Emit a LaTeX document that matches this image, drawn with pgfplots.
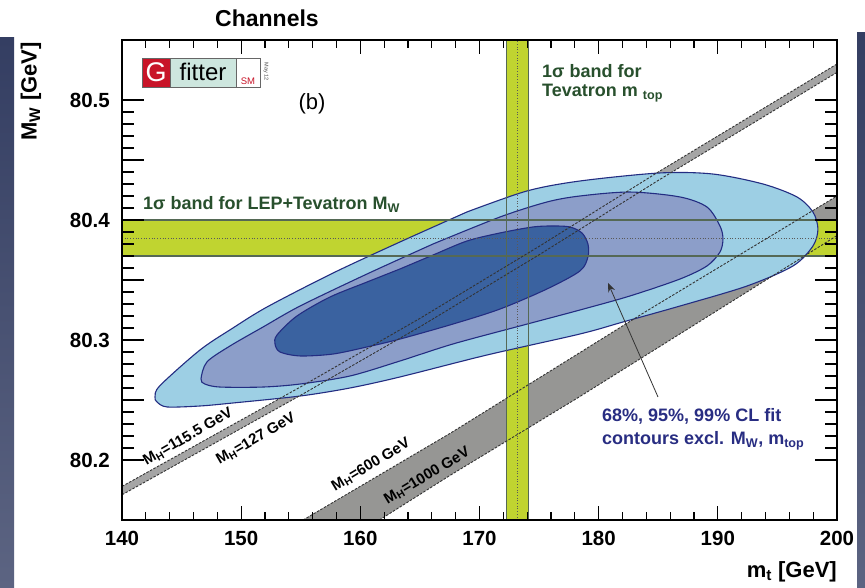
\documentclass[border=0pt]{standalone}
\usepackage{pgfplots}
\pgfplotsset{compat=1.18}
\usepackage{fontspec}
\setmainfont{Liberation Sans}
\usetikzlibrary{arrows.meta}
\definecolor{cl99}{RGB}{157,207,228}
\definecolor{cl95}{RGB}{140,158,201}
\definecolor{cl68}{RGB}{58,98,160}
\definecolor{clline}{RGB}{35,45,130}
\definecolor{yband}{RGB}{192,212,48}
\definecolor{bedge}{RGB}{85,105,85}
\definecolor{hband}{RGB}{150,150,148}
\definecolor{hthin}{RGB}{165,165,165}
\definecolor{gtext}{RGB}{40,80,45}
\definecolor{btext}{RGB}{40,45,130}
\definecolor{slideA}{RGB}{52,62,98}
\definecolor{slideB}{RGB}{92,100,130}
\definecolor{gred}{RGB}{200,20,40}
\definecolor{gcyan}{RGB}{205,230,222}
\newcommand{\sub}[1]{\textsubscript{#1}}
\begin{document}
\begin{tikzpicture}[x=1pt,y=1pt]
\fill[white] (0,0) rectangle (865,588);
\shade[top color=slideA, bottom color=slideB] (0,0) rectangle (14,550);
\shade[top color=slideA, bottom color=slideB] (857,0) rectangle (865,555);
\begin{axis}[at={(122pt,68pt)}, anchor=south west,
  width=715pt, height=480pt, scale only axis,
  xmin=140, xmax=200, ymin=80.15, ymax=80.55,
  axis on top,
  xtick={140,150,160,170,180,190,200}, minor x tick num=4,
  ytick={80.2,80.25,80.3,80.35,80.4,80.45,80.5},
  yticklabels={80.2,,80.3,,80.4,,80.5},
  minor y tick num=4,
  xtick style={/pgfplots/major tick length=14pt,/pgfplots/minor tick length=8pt,line width=1.1pt,black},
  ytick style={/pgfplots/major tick length=22pt,/pgfplots/minor tick length=12pt,line width=1.1pt,black},
  axis line style={line width=1.5pt},
  /pgf/number format/assume math mode=true,
  ticklabel style={font=\bfseries\fontsize{20.5}{20.5}\selectfont, inner sep=0pt},
  xticklabel style={yshift=-11pt},
  yticklabel style={xshift=-12pt},
]
% M_H = 600 - 1000 band
\addplot[fill=hband, draw=none] coordinates {(155.2,80.15) (167.5,80.222) (176,80.2745) (184,80.324) (200,80.42) (200,80.387) (178.2,80.2515) (167.5,80.187) (161.6,80.15)};
% M_H = 115.5 - 127 band
\addplot[fill=hthin, draw=none] coordinates {(140,80.178) (155,80.261) (165,80.318) (175,80.378) (185,80.440) (200,80.530) (200,80.523) (185,80.433) (175,80.371) (165,80.311) (155,80.254) (140,80.171)};
% yellow bands
\addplot[fill=yband, draw=none] coordinates {(172.24,80.15) (174.12,80.15) (174.12,80.55) (172.24,80.55)};
\addplot[fill=yband, draw=none] coordinates {(140,80.37) (200,80.37) (200,80.40) (140,80.40)};
% 99% contour
\addplot[fill=cl99, draw=clline, line width=1.1pt, smooth, tension=0.5] coordinates {
(168.95,80.4067) (173.99,80.4242) (178.43,80.4325) (185.15,80.4392) (189.59,80.4383) (193.79,80.4300) (196.64,80.4192) (197.98,80.4067) (198.40,80.3925) (197.98,80.3783) (196.31,80.3617) (192.45,80.3450) (186.82,80.3283) (182.04,80.3150) (178.43,80.3050) (170.63,80.2875) (163.33,80.2692) (159.13,80.2600) (154.94,80.2533) (149.31,80.2475) (146.55,80.2450) (143.78,80.2442) (142.94,80.2483) (142.77,80.2525) (143.19,80.2620) (146.55,80.2917) (149.31,80.3100) (152.17,80.3275) (157.71,80.3558) (163.33,80.3817) (168.95,80.4067)};
% 95% contour
\addplot[fill=cl95, draw=clline, line width=1.1pt, smooth, tension=0.5] coordinates {
(166.10,80.3800) (171.72,80.4025) (175.66,80.4150) (178.43,80.4200) (182.63,80.4233) (186.82,80.4192) (189.09,80.4108) (190.18,80.3950) (190.43,80.3842) (190.18,80.3733) (189.09,80.3617) (186.82,80.3508) (182.63,80.3367) (178.43,80.3250) (173.40,80.3117) (167.78,80.2967) (163.33,80.2825) (159.13,80.2700) (154.94,80.2633) (151.83,80.2608) (148.22,80.2608) (146.96,80.2633) (146.63,80.2675) (147.13,80.2817) (149.06,80.2950) (151.83,80.3108) (154.94,80.3283) (160.56,80.3550) (166.10,80.3800)};
% 68% contour
\addplot[fill=cl68, draw=clline, line width=1.1pt, smooth, tension=0.5] coordinates {
(163.33,80.3592) (166.10,80.3708) (168.95,80.3825) (171.72,80.3892) (174.49,80.3942) (176.17,80.3950) (177.59,80.3942) (178.60,80.3892) (179.10,80.3800) (179.10,80.3692) (178.43,80.3575) (175.66,80.3425) (171.72,80.3258) (167.78,80.3133) (163.33,80.3008) (160.56,80.2942) (157.71,80.2883) (154.94,80.2867) (153.26,80.2900) (152.84,80.2967) (153.01,80.3042) (154.68,80.3200) (157.45,80.3358) (160.56,80.3483) (163.33,80.3592)};
% band edges and centres
\addplot[bedge, line width=1.1pt] coordinates {(172.24,80.15) (172.24,80.55)};
\addplot[bedge, line width=1.1pt] coordinates {(174.12,80.15) (174.12,80.55)};
\addplot[bedge, line width=1.1pt] coordinates {(140,80.37) (200,80.37)};
\addplot[bedge, line width=1.1pt] coordinates {(140,80.40) (200,80.40)};
\addplot[black!65, dotted, line width=0.7pt] coordinates {(173.18,80.15) (173.18,80.55)};
\addplot[black!65, dotted, line width=0.7pt] coordinates {(140,80.385) (200,80.385)};
% Higgs lines
\addplot[black!80, dash pattern=on 2.5pt off 1.5pt, line width=0.9pt] coordinates {(140,80.178) (155,80.261) (165,80.318) (175,80.378) (185,80.440) (200,80.530)};
\addplot[black!80, dash pattern=on 2.5pt off 1.5pt, line width=0.9pt] coordinates {(140,80.171) (155,80.254) (165,80.311) (175,80.371) (185,80.433) (200,80.523)};
\addplot[black!80, dash pattern=on 2.5pt off 1.5pt, line width=0.9pt] coordinates {(155.2,80.15) (167.5,80.222) (176,80.2745) (184,80.324) (200,80.42)};
\addplot[black!80, dash pattern=on 2.5pt off 1.5pt, line width=0.9pt] coordinates {(161.6,80.15) (167.5,80.187) (178.2,80.2515) (200,80.387)};
\end{axis}
% titles and labels
\node[font=\bfseries\fontsize{23}{23}\selectfont] at (267,570) {Channels};
\node[font=\bfseries\fontsize{22}{22}\selectfont, rotate=90, anchor=east, inner sep=0pt] at (31,546) {M\sub{W} [GeV]};
\node[font=\bfseries\fontsize{22}{22}\selectfont, anchor=east, inner sep=0pt] at (837,16) {m\sub{t} [GeV]};
% logo
\fill[gred] (142,501) rectangle (170,530);
\fill[gcyan] (170,501) rectangle (236,530);
\fill[white] (236,501) rectangle (260,530);
\draw[black!60, line width=0.6pt] (142,501) rectangle (260,530) (170,501) -- (170,530) (236,501) -- (236,530);
\node[white, font=\fontsize{27}{27}\selectfont] at (156,515.5) {G};
\node[black, font=\fontsize{24}{24}\selectfont] at (203,516) {fitter};
\node[gred, font=\fontsize{9.5}{9.5}\selectfont, anchor=south, inner sep=1pt] at (248,502) {SM};
\node[black!70, font=\fontsize{5.5}{5.5}\selectfont, rotate=-90] at (266,516) {May 12};
\node[font=\fontsize{22}{22}\selectfont] at (312,484) {(b)};
% band labels
\node[gtext, font=\bfseries\fontsize{18}{18}\selectfont, anchor=base west, inner sep=0pt] at (143,378) {1σ band for LEP+Tevatron M\sub{W}};
\node[gtext, font=\bfseries\fontsize{18}{18}\selectfont, anchor=base west, inner sep=0pt] at (542,510) {1σ band for};
\node[gtext, font=\bfseries\fontsize{18}{18}\selectfont, anchor=base west, inner sep=0pt] at (542,491) {Tevatron m \sub{top}};
\node[btext, font=\bfseries\fontsize{18}{18}\selectfont, anchor=base west, inner sep=0pt] at (602,166) {68\%, 95\%, 99\% CL fit};
\node[btext, font=\bfseries\fontsize{18}{18}\selectfont, anchor=base west, inner sep=0pt] at (602,143) {contours excl. M\sub{W}, m\sub{top}};
% Higgs labels
\node[font=\bfseries\fontsize{15}{15}\selectfont, rotate=30, inner sep=0pt] at (188,151) {M\sub{H}=115.5 GeV};
\node[font=\bfseries\fontsize{15}{15}\selectfont, rotate=30, inner sep=0pt] at (256,149) {M\sub{H}=127 GeV};
\node[font=\bfseries\fontsize{15}{15}\selectfont, rotate=31, inner sep=0pt] at (371,123) {M\sub{H}=600 GeV};
\node[font=\bfseries\fontsize{15}{15}\selectfont, rotate=31, inner sep=0pt] at (427,112) {M\sub{H}=1000 GeV};
% arrow
\draw[black!80, line width=0.8pt, -{Stealth[length=9pt,width=7pt]}] (658,191) -- (608,305);
\end{tikzpicture}
\end{document}
